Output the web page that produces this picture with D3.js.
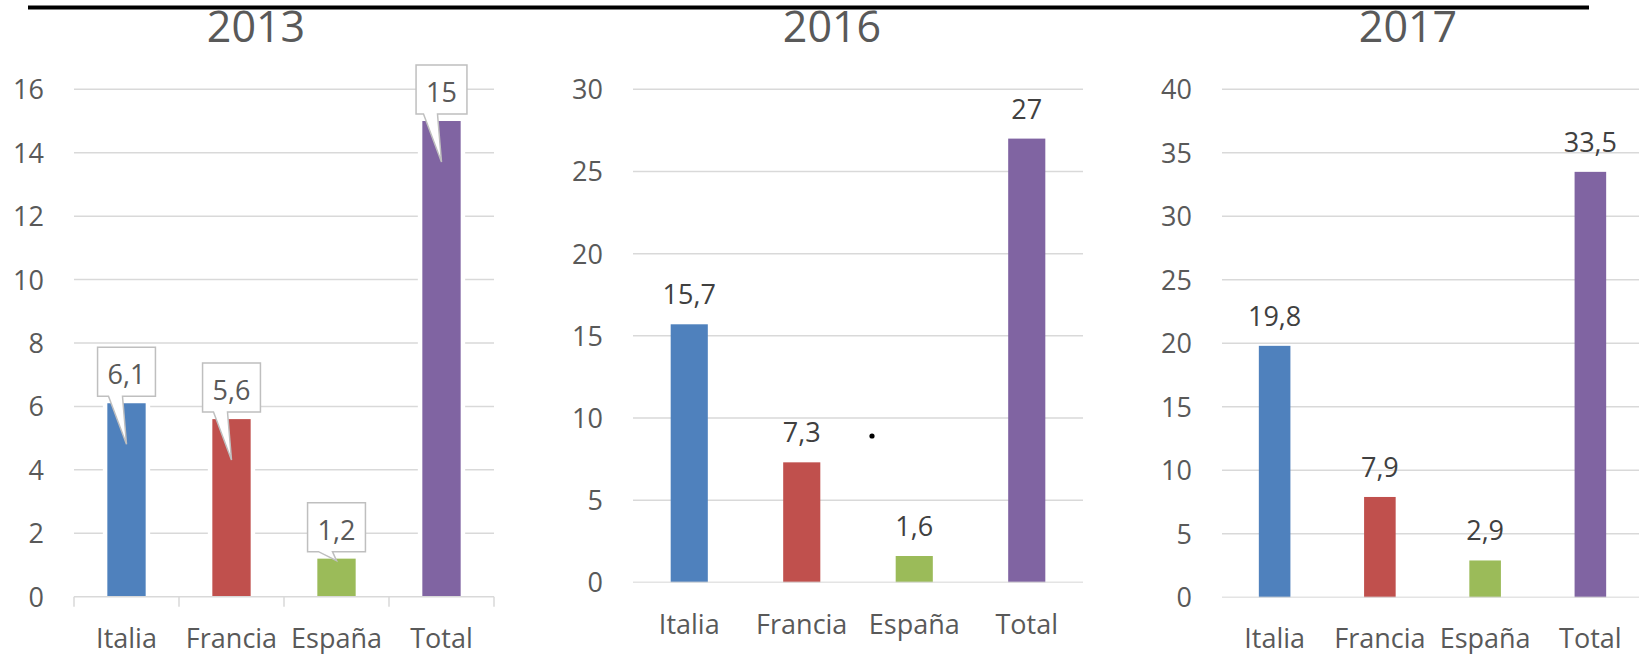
<!DOCTYPE html>
<html>
<head>
<meta charset="utf-8">
<script src="https://cdn.jsdelivr.net/npm/d3@7"></script>
<style>
  html, body { margin: 0; padding: 0; background: #fff; }
  svg { display: block; font-family: "Open Sans", "Liberation Sans", sans-serif; }
</style>
</head>
<body>
<svg id="chart"></svg>
<script>
// chart data
const categories = ["Italia", "Francia", "España", "Total"];
const years = ["2013", "2016", "2017"];
const values2013 = [6.1, 5.6, 1.2, 15];
const values2016 = [15.7, 7.3, 1.6, 27];
const values2017 = [19.8, 7.9, 2.9, 33.5];
const axisMax = [16, 30, 40];
const tickCount = [8, 6, 8];
const colors = ["#4f81bd", "#c0504d", "#9bbb59", "#8064a2"];

const width = 1639, height = 654;
const svg = d3.select("#chart").attr("width", width).attr("height", height);

const fmt = d => String(d).replace(".", ",");

// top rule (underline of the cropped title)
svg.append("line")
  .attr("x1", 28).attr("x2", 1589)
  .attr("y1", 7.5).attr("y2", 7.5)
  .attr("stroke", "#000").attr("stroke-width", 4);

// layout per panel
const panels = [
  { values: values2013, left: 74, right: 494, top: 89.3, zero: 596.7, labelY: 648, titleX: 256, callouts: true, ticks: true, barFrac: 0.365 },
  { values: values2016, left: 633, right: 1083, top: 89.3, zero: 582.3, labelY: 634, titleX: 832, callouts: false, ticks: false, barFrac: 0.33 },
  { values: values2017, left: 1222, right: 1643, top: 89.3, zero: 597.3, labelY: 648, titleX: 1408, callouts: false, ticks: false, barFrac: 0.30 }
];

panels.forEach((p, i) => {
  const g = svg.append("g");
  const x = d3.scaleBand().domain(categories).range([p.left, p.right]).paddingInner(0).paddingOuter(0);
  const y = d3.scaleLinear().domain([0, axisMax[i]]).range([p.zero, p.top]);
  const bw = x.bandwidth() * p.barFrac;

  // title
  g.append("text")
    .attr("x", p.titleX).attr("y", 42)
    .attr("text-anchor", "middle")
    .attr("font-size", 43)
    .attr("fill", "#595959")
    .text(years[i]);

  // gridlines + y labels
  const ticks = y.ticks(tickCount[i]);
  g.selectAll(".grid").data(ticks.filter(t => t > 0)).join("line")
    .attr("x1", p.left).attr("x2", p.right)
    .attr("y1", d => y(d)).attr("y2", d => y(d))
    .attr("stroke", "#d9d9d9").attr("stroke-width", 1.5);

  g.selectAll(".ylab").data(ticks).join("text")
    .attr("x", p.left - 30)
    .attr("y", d => y(d) + 10)
    .attr("text-anchor", "end")
    .attr("font-size", 27)
    .attr("fill", "#595959")
    .text(d => d);

  // bars
  g.selectAll(".bar").data(p.values).join("rect")
    .attr("x", (d, j) => x(categories[j]) + (x.bandwidth() - bw) / 2)
    .attr("y", d => y(d))
    .attr("width", bw)
    .attr("height", d => y(0) - y(d))
    .attr("fill", (d, j) => colors[j])
    .attr("stroke", p.callouts ? "#fff" : "none")
    .attr("stroke-width", 9)
    .style("paint-order", "stroke");

  // zero axis line
  g.append("line")
    .attr("x1", p.left).attr("x2", p.right)
    .attr("y1", y(0)).attr("y2", y(0))
    .attr("stroke", "#d9d9d9").attr("stroke-width", 1.5)
    .attr("opacity", p.callouts ? 1 : 0.7);

  if (p.ticks) {
    const edges = categories.map(c => x(c)).concat([p.right]);
    g.selectAll(".tick").data(edges).join("line")
      .attr("x1", d => d).attr("x2", d => d)
      .attr("y1", y(0)).attr("y2", y(0) + 10)
      .attr("stroke", "#d9d9d9").attr("stroke-width", 1.5);
  }

  // category labels
  g.selectAll(".xlab").data(categories).join("text")
    .attr("x", d => x(d) + x.bandwidth() / 2)
    .attr("y", p.labelY)
    .attr("text-anchor", "middle")
    .attr("font-size", 27)
    .attr("fill", "#595959")
    .text(d => d);

  // data labels
  if (p.callouts) {
    p.values.forEach((v, j) => {
      const cx = x(categories[j]) + x.bandwidth() / 2;
      const barTop = y(v);
      const barH = y(0) - barTop;
      const boxBottom = barTop - 7;
      const boxH = 49;
      const t = g.append("text")
        .attr("x", cx).attr("y", boxBottom - 12)
        .attr("text-anchor", "middle")
        .attr("font-size", 27)
        .attr("fill", "#595959")
        .text(fmt(v));
      const tw = t.node().getComputedTextLength();
      const bwid = tw + 20;
      const l = cx - bwid / 2, r = cx + bwid / 2, top = boxBottom - boxH;
      const tipY = barH > 80 ? barTop + 41 : barTop + 2;
      const path = d3.path();
      path.moveTo(l, top);
      path.lineTo(r, top);
      path.lineTo(r, boxBottom);
      path.lineTo(cx - 4, boxBottom);
      path.lineTo(cx, tipY);
      path.lineTo(cx - 18, boxBottom);
      path.lineTo(l, boxBottom);
      path.closePath();
      g.insert("path", "text:last-of-type")
        .attr("d", path.toString())
        .attr("fill", "#fff")
        .attr("stroke", "#bfbfbf")
        .attr("stroke-width", 1.5);
      t.raise();
    });
  } else {
    g.selectAll(".vlab").data(p.values).join("text")
      .attr("x", (d, j) => x(categories[j]) + x.bandwidth() / 2)
      .attr("y", d => y(d) - 20)
      .attr("text-anchor", "middle")
      .attr("font-size", 27)
      .attr("fill", "#404040")
      .text(d => fmt(d));
  }
});

// stray dot in the 2016 panel
svg.append("circle").attr("cx", 872).attr("cy", 436).attr("r", 2.6).attr("fill", "#000");
</script>
</body>
</html>
